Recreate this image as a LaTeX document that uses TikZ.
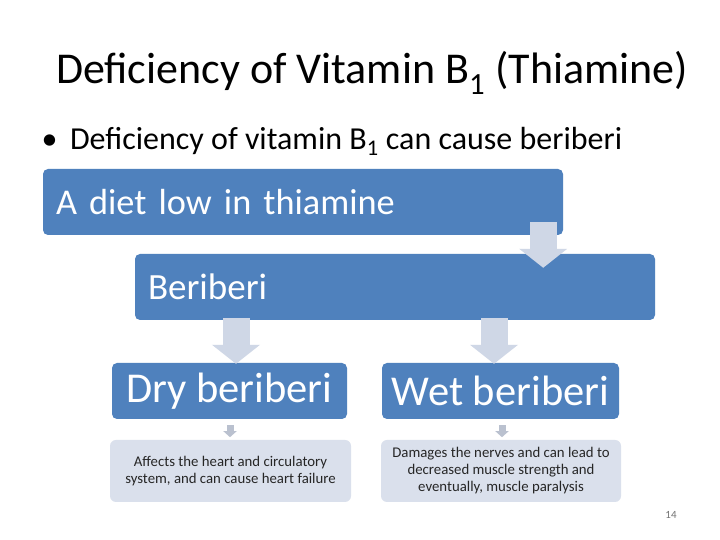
\documentclass[tikz,border=0pt]{standalone}
\usepackage{fontspec}
\setmainfont{Carlito}
\usetikzlibrary{arrows.meta}
\definecolor{darkbox}{HTML}{4F81BD}
\definecolor{lightbox}{HTML}{DAE0EC}
\definecolor{arrowfill}{HTML}{CFD7E6}
\tikzset{
  bluebox/.style={fill=darkbox, rounded corners=5pt, text=white, inner ysep=0pt},
  notebox/.style={fill=lightbox, rounded corners=6pt, text=black!85, align=center, inner sep=0pt, font=\fontsize{14.8}{17}\selectfont},
  bigarrow/.style={draw=arrowfill, line width=27pt, -{Triangle[width=47pt,length=19pt,fill=arrowfill]}},
  smallarrow/.style={draw=arrowfill!90!black, line width=7pt, -{Triangle[width=13pt,length=6pt,fill=arrowfill!90!black]}}
}
\begin{document}
\begin{tikzpicture}[x=1pt,y=1pt]
\useasboundingbox [fill=white] (0,0) rectangle (720,540);
% title and bullet
\node[font=\fontsize{44}{52}\selectfont] (title) at (372,467) {Deficiency of Vitamin B\textsubscript{1} (Thiamine)};
\node[anchor=west, font=\fontsize{32}{38}\selectfont] (bullet) at (38,399) {\textbullet\ \,Deficiency of vitamin B\textsubscript{1} can cause beriberi};
% boxes
\node[bluebox, minimum width=520pt, minimum height=66pt, text width=494pt, inner xsep=13pt, align=left, font=\fontsize{36.3}{44}\selectfont] (diet) at (303,338) {A diet low in thiamine};
\node[bluebox, minimum width=520pt, minimum height=66pt, text width=494pt, inner xsep=13pt, align=left, font=\fontsize{37}{44}\selectfont] (beri) at (395,253) {Beriberi};
\node[bluebox, minimum width=235pt, minimum height=56pt, inner xsep=0pt, font=\fontsize{42.5}{50}\selectfont] (dry) at (229.5,149) {\raisebox{-2pt}{Dry beriberi}};
\node[bluebox, minimum width=237pt, minimum height=56pt, inner xsep=0pt, font=\fontsize{42.5}{50}\selectfont] (wet) at (500.5,149) {\raisebox{-2pt}{Wet beriberi}};
\node[notebox, minimum width=241pt, minimum height=62pt] (drynote) at (230.5,69) {Affects the heart and circulatory\\system, and can cause heart failure};
\node[notebox, minimum width=240pt, minimum height=62pt] (wetnote) at (501,69) {Damages the nerves and can lead to\\decreased muscle strength and\\eventually, muscle paralysis};
% arrows
\coordinate (a1) at ([xshift=-20pt,yshift=13pt]diet.south east);
\coordinate (a0) at ([yshift=-14pt]beri.north);
\coordinate (d0) at ([yshift=-1pt]dry.north);
\coordinate (w0) at ([yshift=-1pt]wet.north);
\draw[bigarrow] (a1) -- (a1 |- a0);
\coordinate (b1) at ([xshift=-159pt,yshift=2pt]beri.south);
\coordinate (c1) at ([xshift=99pt,yshift=2pt]beri.south);
\draw[bigarrow] (b1) -- (b1 |- d0);
\draw[bigarrow] (c1) -- (c1 |- w0);
\draw[smallarrow] ([xshift=0.5pt,yshift=-6pt]dry.south) -- ([xshift=0.5pt,yshift=-18pt]dry.south);
\draw[smallarrow] ([xshift=1.5pt,yshift=-6pt]wet.south) -- ([xshift=1.5pt,yshift=-18pt]wet.south);
% page number
\node[text=black!55, font=\fontsize{11}{13}\selectfont] (page) at (671,25) {14};
\end{tikzpicture}
\end{document}
